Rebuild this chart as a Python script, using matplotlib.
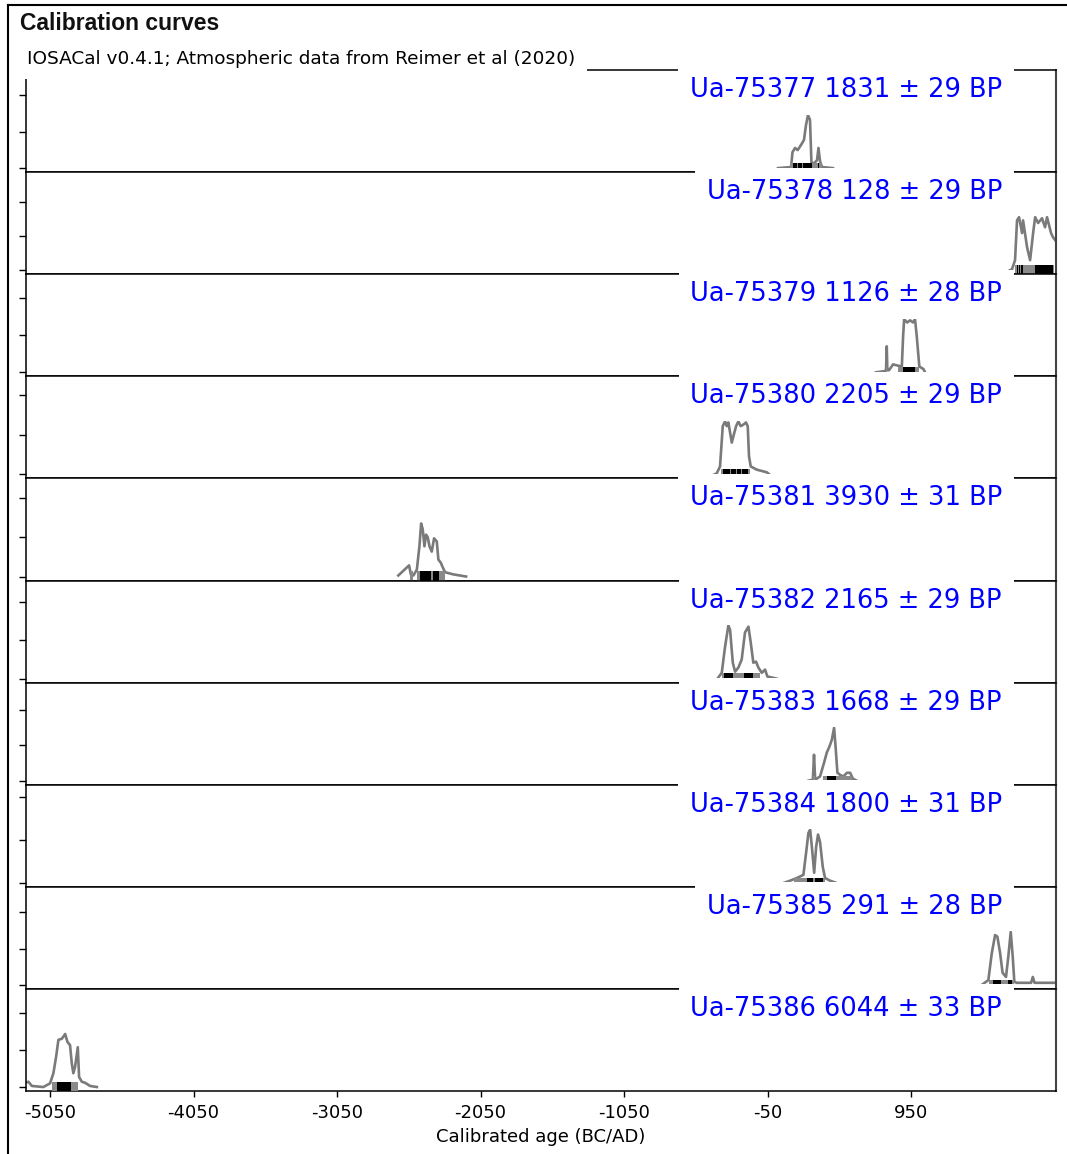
import matplotlib
matplotlib.use('Agg')
import matplotlib.pyplot as plt
from matplotlib.lines import Line2D
from matplotlib.ticker import MaxNLocator
import numpy as np

plt.rcParams['font.family'] = ['DejaVu Sans']
plt.rcParams['axes.unicode_minus'] = False

# sample labels (lab code, conventional age, error)
labels = ['Ua-75377 1831 ± 29 BP', 'Ua-75378 128 ± 29 BP', 'Ua-75379 1126 ± 28 BP',
          'Ua-75380 2205 ± 29 BP', 'Ua-75381 3930 ± 31 BP', 'Ua-75382 2165 ± 29 BP',
          'Ua-75383 1668 ± 29 BP', 'Ua-75384 1800 ± 31 BP', 'Ua-75385 291 ± 28 BP',
          'Ua-75386 6044 ± 33 BP']

# calibrated curves, age in BC/AD, probability relative to the peak
ua75377_age = [23, 114, 124, 142, 160, 182, 204, 218, 232, 246, 256, 274, 295, 305, 316, 330, 406]
ua75377_prob = [0, 0.02, 0.30, 0.38, 0.34, 0.43, 0.53, 0.81, 1.0, 0.91, 0.11, 0.09, 0.15, 0.38, 0.13, 0.02, 0]
ua75377_68 = [(128, 152), (160, 187), (194, 259), (305, 311)]
ua75377_95 = [(110, 330)]

ua75378_age = [1640, 1654, 1675, 1689, 1703, 1724, 1731, 1759, 1780, 1801, 1815, 1836, 1863, 1884, 1898, 1926, 1940, 1960]
ua75378_prob = [0, 0.02, 0.19, 0.94, 1.0, 0.70, 0.94, 0.43, 0.19, 0.70, 1.0, 0.89, 0.98, 0.81, 1.0, 0.70, 0.62, 0.55]
ua75378_68 = [(1687, 1696), (1702, 1712), (1720, 1731), (1815, 1942)]
ua75378_95 = [(1672, 1950)]

ua75379_age = [706, 762, 776, 781, 785, 797, 825, 853, 886, 895, 902, 923, 944, 964, 978, 990, 1008, 1037, 1048]
ua75379_prob = [0, 0.02, 0.04, 0.49, 0.04, 0.04, 0.15, 0.13, 0.11, 0.68, 1.0, 0.94, 0.98, 0.94, 1.0, 0.68, 0.11, 0.06, 0]
ua75379_68 = [(896, 978)]
ua75379_95 = [(777, 786), (858, 1008)]

ua75380_age = [-420, -404, -381, -362, -346, -334, -323, -311, -299, -288, -269, -253, -237, -218, -200, -188, -179, -167, -125, -55, -37]
ua75380_prob = [0, 0.02, 0.15, 0.91, 1.0, 0.91, 0.98, 0.79, 0.60, 0.72, 0.91, 1.0, 0.91, 0.94, 0.98, 0.91, 0.34, 0.15, 0.09, 0.04, 0]
ua75380_68 = [(-362, -314), (-308, -272), (-266, -233), (-227, -186)]
ua75380_95 = [(-372, -175)]

ua75381_age = [-2623, -2564, -2548, -2536, -2518, -2494, -2476, -2464, -2453, -2441, -2430, -2418, -2406, -2390, -2374, -2355, -2344, -2327, -2313, -2297, -2239, -2151]
ua75381_prob = [0.02, 0.17, 0.21, 0.04, 0.02, 0.13, 0.57, 1.0, 0.89, 0.57, 0.79, 0.74, 0.57, 0.47, 0.72, 0.66, 0.32, 0.26, 0.17, 0.08, 0.04, 0]
ua75381_68 = [(-2470, -2398), (-2381, -2342)]
ua75381_95 = [(-2545, -2521), (-2490, -2297)]

ua75382_age = [-393, -369, -346, -323, -311, -292, -276, -253, -230, -207, -183, -167, -149, -130, -114, -90, -67, -51, 14]
ua75382_prob = [0.02, 0.11, 0.60, 1.0, 0.92, 0.30, 0.13, 0.21, 0.36, 0.87, 0.98, 0.68, 0.30, 0.32, 0.21, 0.11, 0.17, 0.04, 0]
ua75382_68 = [(-353, -288), (-211, -152)]
ua75382_95 = [(-365, -100)]

ua75383_age = [235, 266, 274, 282, 316, 344, 363, 381, 398, 414, 426, 437, 456, 479, 503, 526, 544, 572]
ua75383_prob = [0, 0.02, 0.49, 0.02, 0.08, 0.34, 0.53, 0.64, 0.77, 1.0, 0.58, 0.15, 0.11, 0.08, 0.15, 0.15, 0.04, 0]
ua75383_68 = [(363, 428)]
ua75383_95 = [(265, 280), (335, 540)]

ua75384_age = [65, 107, 154, 200, 219, 235, 247, 259, 275, 289, 302, 316, 335, 351, 386, 428]
ua75384_prob = [0, 0.04, 0.09, 0.15, 0.57, 0.94, 1.0, 0.68, 0.19, 0.68, 0.91, 0.77, 0.30, 0.09, 0.04, 0]
ua75384_68 = [(224, 266), (281, 335)]
ua75384_95 = [(135, 350)]

ua75385_age = [1443, 1489, 1513, 1536, 1552, 1571, 1588, 1612, 1628, 1645, 1659, 1670, 1687, 1787, 1799, 1811, 1960]
ua75385_prob = [0, 0.09, 0.60, 0.94, 0.91, 0.60, 0.23, 0.15, 0.53, 1.0, 0.53, 0.06, 0.04, 0.04, 0.15, 0.04, 0.04]
ua75385_68 = [(1524, 1575), (1628, 1656)]
ua75385_95 = [(1495, 1665)]

ua75386_age = [-5230, -5201, -5177, -5097, -5050, -5027, -5008, -4992, -4968, -4945, -4929, -4911, -4899, -4888, -4876, -4857, -4848, -4829, -4806, -4771, -4724]
ua75386_prob = [0.07, 0.10, 0.02, 0.0, 0.07, 0.26, 0.57, 0.89, 0.91, 1.0, 0.85, 0.79, 0.45, 0.26, 0.38, 0.75, 0.19, 0.10, 0.08, 0.02, 0]
ua75386_68 = [(-4999, -4904)]
ua75386_95 = [(-5038, -4857)]

xticks = [-5050, -4050, -3050, -2050, -1050, -50, 950]

curves = [
    (ua75377_age, ua75377_prob, ua75377_68, ua75377_95),
    (ua75378_age, ua75378_prob, ua75378_68, ua75378_95),
    (ua75379_age, ua75379_prob, ua75379_68, ua75379_95),
    (ua75380_age, ua75380_prob, ua75380_68, ua75380_95),
    (ua75381_age, ua75381_prob, ua75381_68, ua75381_95),
    (ua75382_age, ua75382_prob, ua75382_68, ua75382_95),
    (ua75383_age, ua75383_prob, ua75383_68, ua75383_95),
    (ua75384_age, ua75384_prob, ua75384_68, ua75384_95),
    (ua75385_age, ua75385_prob, ua75385_68, ua75385_95),
    (ua75386_age, ua75386_prob, ua75386_68, ua75386_95),
]

W, H = 1067, 1154
fig = plt.figure(figsize=(W / 100, H / 100), dpi=100)
axes = fig.subplots(len(labels), 1, sharex=True, gridspec_kw=dict(hspace=0))
fig.subplots_adjust(left=25.7 / W, right=1055.5 / W, top=1 - 70 / H, bottom=1 - 1091 / H)

for i, (ax, label, (age, prob, i68, i95)) in enumerate(zip(axes, labels, curves)):
    age = np.array(age, dtype=float)
    prob = np.array(prob, dtype=float)
    # normalise to a probability density
    dens = prob / np.trapezoid(prob, age)
    top = dens.max()

    ax.plot(age, dens, color='#7a7a7a', lw=1.9, zorder=2)
    for a, b in i95:
        ax.axvspan(a, b, ymin=0, ymax=0.09, color='#8a8a8a', lw=0, zorder=3)
    for a, b in i68:
        ax.axvspan(a, b, ymin=0, ymax=0.09, color='black', lw=0, zorder=4)

    ax.set_ylim(-0.075 * top, 1.85 * top)
    ax.yaxis.set_major_locator(MaxNLocator(nbins=3))
    ax.tick_params(axis='y', direction='out', length=5, width=1, labelleft=False)
    ax.spines['right'].set_color('#444444')
    ax.spines['right'].set_linewidth(1.5)
    for s in ('top', 'bottom', 'left'):
        ax.spines[s].set_linewidth(1.1)

    ax.text(0.948, 1 - 27 / 102.1, label, transform=ax.transAxes, ha='right', va='baseline',
            color='blue', fontsize=18.5,
            bbox=dict(boxstyle='square,pad=0.45', fc='white', ec='none'))

    if i < len(labels) - 1:
        ax.tick_params(axis='x', which='both', bottom=False, labelbottom=False)

ax = axes[-1]
ax.set_xlim(-5220, 1957)
ax.set_xticks(xticks)
ax.tick_params(axis='x', direction='out', length=4.5, width=1, labelsize=13, pad=5)
ax.set_xlabel('Calibrated age (BC/AD)', fontsize=13, labelpad=4)

# header texts
fig.text(20 / W, 1 - 30 / H, 'Calibration curves', fontsize=16.5, fontweight='bold',
         family=['Liberation Sans', 'DejaVu Sans'], color='#111111', va='baseline')
fig.text(27 / W, 1 - 64 / H, 'IOSACal v0.4.1; Atmospheric data from Reimer et al (2020)',
         fontsize=13.3, va='baseline',
         bbox=dict(boxstyle='square,pad=0.62', fc='white', ec='none'))

# page frame
fig.add_artist(Line2D([8 / W, 1], [1 - 5 / H, 1 - 5 / H], color='black', lw=1.5))
fig.add_artist(Line2D([8 / W, 8 / W], [0, 1 - 5 / H], color='black', lw=1.5))

fig.savefig('out.png', dpi=100)
